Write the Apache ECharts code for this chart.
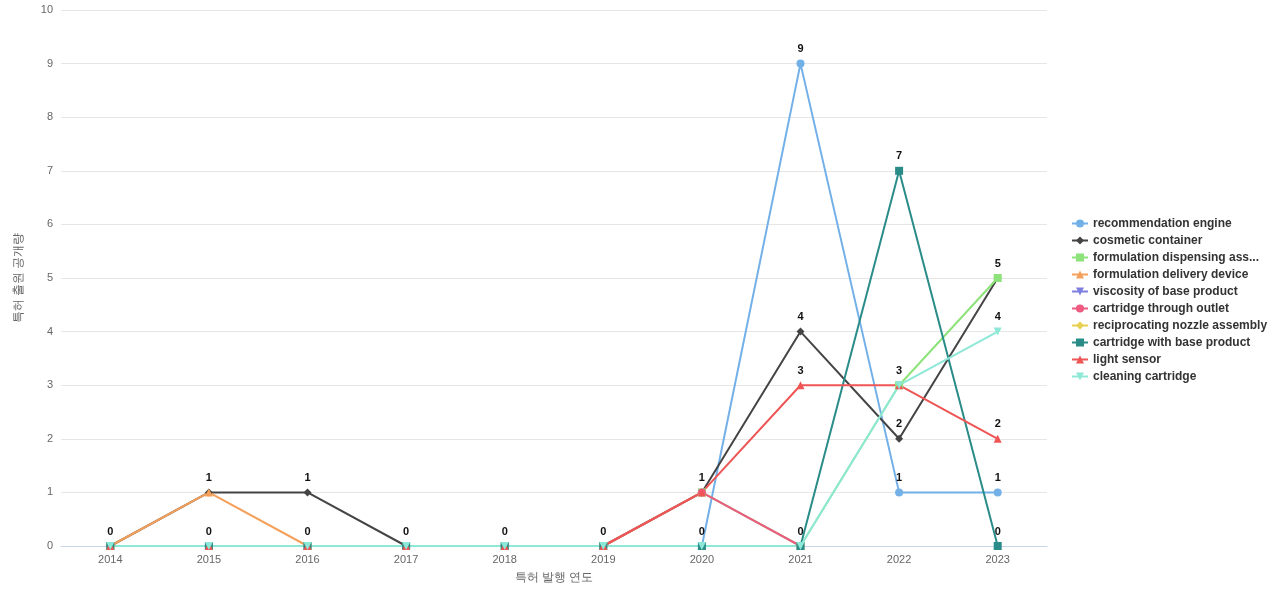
<!DOCTYPE html>
<html><head><meta charset="utf-8">
<script src="https://cdn.jsdelivr.net/npm/echarts@6/dist/echarts.min.js"></script>
<style>html,body{margin:0;padding:0}#main{width:1280px;height:600px}</style>
</head><body><div id="main"></div>
<script>
var years = ['2014','2015','2016','2017','2018','2019','2020','2021','2022','2023'];
var names = ['recommendation engine','cosmetic container','formulation dispensing assembly','formulation delivery device','viscosity of base product','cartridge through outlet','reciprocating nozzle assembly','cartridge with base product','light sensor','cleaning cartridge'];
var symbols = ['circle','diamond','rect','triangle','path://M0,0L10,0L5,10Z','circle','diamond','rect','triangle','path://M0,0L10,0L5,10Z'];
var colors = ['#73b0e8','#444444','#8de27a','#f5a05a','#7f7fe0','#ee5a80','#e8d050','#2a8c88','#ef5555','#8ee8d8'];
var recommendation = [0,0,0,0,0,0,0,9,1,1];
var cosmetic = [0,1,1,0,0,0,1,4,2,5];
var dispensing = [0,0,0,0,0,0,1,0,3,5];
var delivery = [0,1,0,0,0,0,0,0,null,null];
var viscosity = [0,0,0,0,0,0,0,0,null,null];
var outlet = [0,0,0,0,0,0,1,0,null,null];
var nozzle = [0,0,0,0,0,0,0,0,null,null];
var baseProduct = [0,0,0,0,0,0,0,0,7,0];
var lightSensor = [0,0,0,0,0,0,1,3,3,2];
var cleaning = [0,0,0,0,0,0,0,0,3,4];
var values = [recommendation,cosmetic,dispensing,delivery,viscosity,outlet,nozzle,baseProduct,lightSensor,cleaning];

var chart = echarts.init(document.getElementById('main'));
var series = names.map(function (n, i) {
    return {
        name: n, type: 'line', data: values[i], symbol: symbols[i], symbolSize: 8,
        lineStyle: {width: 2}, itemStyle: {color: colors[i]},
        label: {show: true, position: 'top', color: '#111', fontWeight: 'bold', fontSize: 11},
        labelLayout: {hideOverlap: true}
    };
});
chart.setOption({
    color: colors,
    grid: {left: 61, right: 233, top: 10, bottom: 54},
    legend: {
        orient: 'vertical', left: 1066, top: 'middle', itemWidth: 16, itemHeight: 10, itemGap: 5,
        textStyle: {fontWeight: 'bold', fontSize: 12, color: '#333', width: 178, overflow: 'truncate'},
        data: names
    },
    xAxis: {
        type: 'category', data: years, boundaryGap: true,
        name: '특허 발행 연도', nameLocation: 'middle', nameGap: 26,
        nameTextStyle: {color: '#666', fontSize: 12},
        axisLine: {lineStyle: {color: '#ccd6eb'}}, axisTick: {show: false},
        axisLabel: {color: '#666', fontSize: 11}
    },
    yAxis: {
        type: 'value', min: 0, max: 10, interval: 1,
        name: '특허 출원 공개량', nameLocation: 'middle', nameGap: 36,
        nameTextStyle: {color: '#666', fontSize: 12},
        axisLabel: {color: '#666', fontSize: 11},
        splitLine: {lineStyle: {color: '#e6e6e6'}}
    },
    series: series
});
</script></body></html>
